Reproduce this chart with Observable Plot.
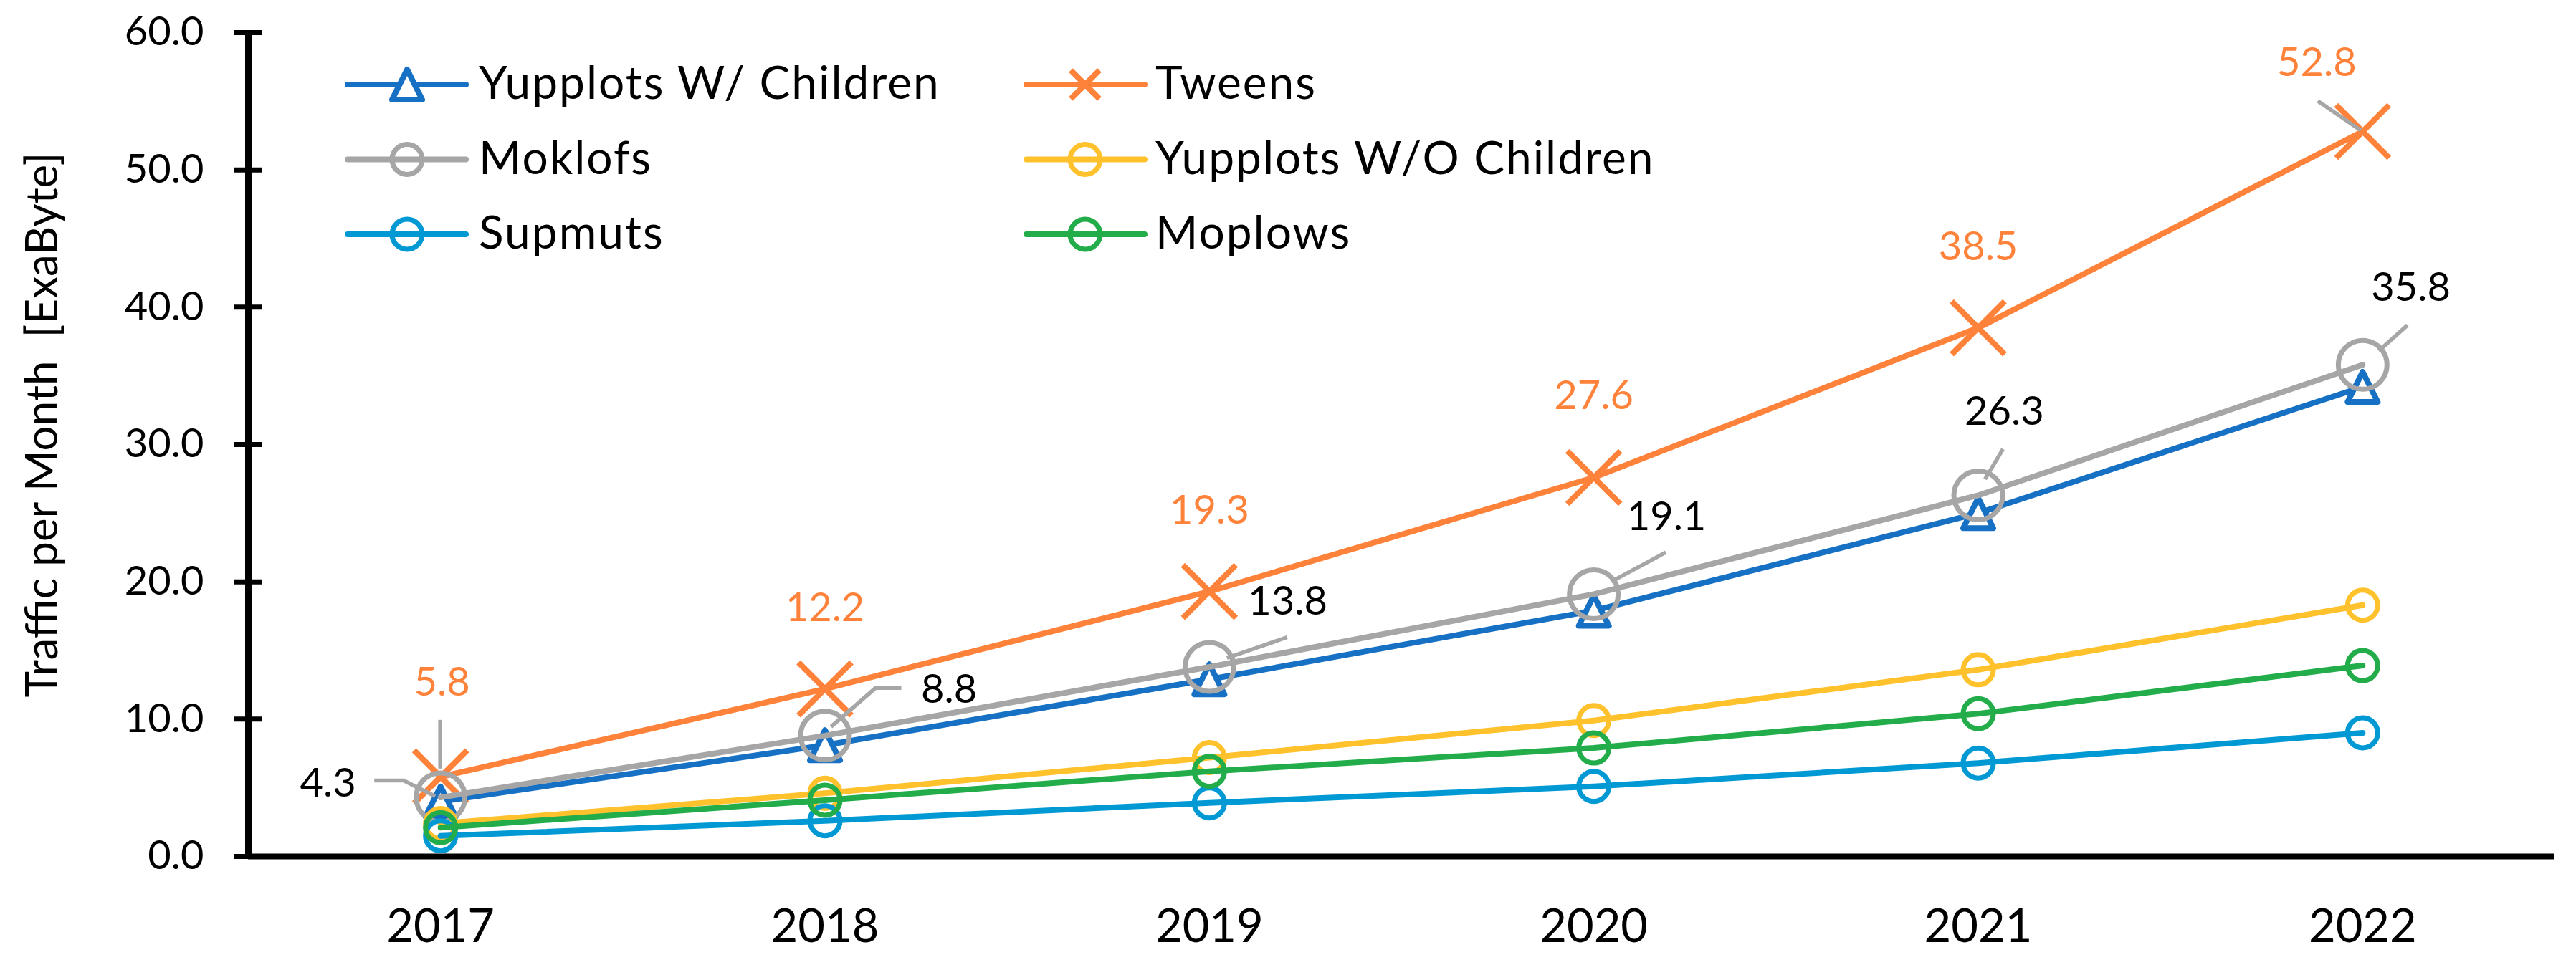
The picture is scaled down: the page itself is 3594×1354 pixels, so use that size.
<!DOCTYPE html>
<html><head><meta charset="utf-8">
<script src="https://cdn.jsdelivr.net/npm/d3@7"></script>
<script src="https://cdn.jsdelivr.net/npm/@observablehq/plot@0.6"></script>
<style>
html,body{margin:0;padding:0;background:#fff;overflow:hidden}
#wrap{position:relative;width:3594px;height:1354px;font-family:Lato,sans-serif}
#ytitle{position:absolute;left:56px;top:593px;transform:translate(-50%,-50%) rotate(-90deg);font-size:62px;white-space:nowrap;color:#000;line-height:1.2;font-family:Lato,sans-serif}
#legend{position:absolute;left:0;top:0}
</style></head><body>
<div id="wrap"><div id="chart"></div><div id="ytitle">Traffic per Month&nbsp; [ExaByte]</div><svg id="legend" width="2700" height="400"></svg></div>
<script>
// ---- data ----
const years = [2017, 2018, 2019, 2020, 2021, 2022];
const yTicks = [0, 10, 20, 30, 40, 50, 60];
const seriesNames = ["Yupplots W/ Children", "Tweens", "Moklofs", "Yupplots W/O Children", "Supmuts", "Moplows"];
const yupplotsWith = [4.0, 8.1, 12.9, 17.9, 25.0, 34.2];
const tweens = [5.8, 12.2, 19.3, 27.6, 38.5, 52.8];
const moklofs = [4.3, 8.8, 13.8, 19.1, 26.3, 35.8];
const yupplotsWithout = [2.4, 4.6, 7.2, 9.9, 13.6, 18.3];
const supmuts = [1.5, 2.6, 3.9, 5.1, 6.8, 9.0];
const moplows = [2.1, 4.1, 6.2, 7.9, 10.4, 13.9];
const seriesValues = [yupplotsWith, tweens, moklofs, yupplotsWithout, supmuts, moplows];

// ---- styles / layout ----
const colors = ["#1670C3", "#FF823B", "#A6A6A6", "#FFC12C", "#0099D4", "#22AD4A"];
const symTriangle = {draw(ctx, size) { const r = Math.sqrt(size / Math.PI); ctx.moveTo(0, -r); ctx.lineTo(r, r); ctx.lineTo(-r, r); ctx.closePath(); }};
const symX = {draw(ctx, size) { const r = Math.sqrt(size / Math.PI); ctx.moveTo(-r, -r); ctx.lineTo(r, r); ctx.moveTo(r, -r); ctx.lineTo(-r, r); }};
const symbols = [symTriangle, symX, d3.symbolCircle, d3.symbolCircle, d3.symbolCircle, d3.symbolCircle];
const markerR = [21, 37, 34, 21, 21, 21];
const markerSW = [8, 8, 7, 7, 7, 7];
const markerFill = ["white", "none", "none", "none", "none", "none"];
const drawOrder = [1, 0, 2, 3, 4, 5];
const leaderColor = "#A6A6A6";
// label offsets (px) relative to each point: [dx, dy, anchor]
const tweensLabelLayout = [[2, -131, "middle"], [0, -113, "middle"], [0, -113, "middle"], [0, -113, "middle"], [0, -113, "middle"], [-64, -95, "middle"]];
const tweensLeaders = [[[0, -79], [0, -11]], null, null, null, null, [[-62, -42], [-2, -1]]];
const moklofsLabelLayout = [[-118, -19, "end"], [134, -64, "start"], [54, -91, "start"], [46, -107, "start"], [-19, -116, "start"], [12, -107, "start"]];
const moklofsLeaders = [[[-92, -23], [-51, -23], [-7, -1]], [[107, -66], [71, -66], [9, -12]], [[109, -41], [25, -12]], [[101, -58], [25, -17]], [[35, -64], [10, -22]], [[63, -55], [23, -19]]];

const rows = seriesValues.map((vals, s) => vals.map((v, i) => ({series: seriesNames[s], year: years[i], value: v})));

const marks = [
  Plot.ruleX([2016.5], {stroke: "black", strokeWidth: 9}),
  Plot.ruleY([0], {stroke: "black", strokeWidth: 8}),
  Plot.axisY({ticks: yTicks, tickSize: 40, dx: 20, tickPadding: 42, tickFormat: d => d.toFixed(1), fontSize: 56, strokeWidth: 7, label: null}),
  Plot.axisX({ticks: years, tickSize: 0, tickPadding: 73, tickFormat: d => String(d), fontSize: 65, label: null})
];
for (const s of drawOrder) {
  marks.push(Plot.line(rows[s], {x: "year", y: "value", stroke: colors[s], strokeWidth: 8, strokeLinejoin: "round", strokeLinecap: "round"}));
  marks.push(Plot.dot(rows[s], {x: "year", y: "value", symbol: symbols[s], r: markerR[s], stroke: colors[s], strokeWidth: markerSW[s], fill: markerFill[s], strokeLinejoin: "round"}));
}
// leader lines drawn with the plot's scales
const leaderSets = [[rows[1], tweensLeaders], [rows[2], moklofsLeaders]];
marks.push((index, scales) => {
  const g = d3.create("svg:g");
  for (const [data, leaders] of leaderSets) {
    data.forEach((d, i) => {
      const L = leaders[i];
      if (!L) return;
      const px = scales.x(d.year), py = scales.y(d.value);
      g.append("path").attr("d", d3.line()(L.map(([dx, dy]) => [px + dx, py + dy])))
        .attr("fill", "none").attr("stroke", leaderColor).attr("stroke-width", 5.5);
    });
  }
  return g.node();
});
rows[1].forEach((d, i) => {
  const [dx, dy, anchor] = tweensLabelLayout[i];
  marks.push(Plot.text([d], {x: "year", y: "value", text: d => d.value.toFixed(1), dx, dy, textAnchor: anchor, lineAnchor: "middle", fill: colors[1], fontSize: 56}));
});
rows[2].forEach((d, i) => {
  const [dx, dy, anchor] = moklofsLabelLayout[i];
  marks.push(Plot.text([d], {x: "year", y: "value", text: d => d.value.toFixed(1), dx, dy, textAnchor: anchor, lineAnchor: "middle", fill: "black", fontSize: 56}));
});

const chart = Plot.plot({
  width: 3594, height: 1354,
  marginLeft: 346, marginRight: 30, marginTop: 45, marginBottom: 159,
  x: {domain: [2016.5, 2022.5]},
  y: {domain: [0, 60]},
  style: {fontFamily: "Lato, sans-serif", fontSize: "56px", background: "white", color: "black", overflow: "visible"},
  marks
});
document.getElementById("chart").appendChild(chart);

// ---- legend ----
const legendCols = [[485, 650, 568, 668], [1432, 1597, 1514, 1612]];
const legendRowsY = [118, 222.5, 327];
const legendOrder = [[0, 0], [1, 0], [0, 1], [1, 1], [0, 2], [1, 2]];
const legend = d3.select("#legend");
legendOrder.forEach(([c, r], s) => {
  const [x1, x2, mx, tx] = legendCols[c];
  const y = legendRowsY[r];
  legend.append("line").attr("x1", x1).attr("x2", x2).attr("y1", y).attr("y2", y)
    .attr("stroke", colors[s]).attr("stroke-width", 8).attr("stroke-linecap", "round");
  const lr = s === 1 ? 20 : 21;
  legend.append("path").attr("transform", `translate(${mx},${y})`)
    .attr("d", d3.symbol().type(symbols[s]).size(Math.PI * lr * lr)())
    .attr("fill", markerFill[s]).attr("stroke", colors[s]).attr("stroke-width", s === 0 || s === 1 ? 8 : 7).attr("stroke-linejoin", "round");
  legend.append("text").attr("x", tx).attr("y", y + 20).attr("font-size", 64).attr("letter-spacing", 2)
    .attr("font-family", "Lato, sans-serif").attr("fill", "black").text(seriesNames[s]);
});
</script></body></html>
